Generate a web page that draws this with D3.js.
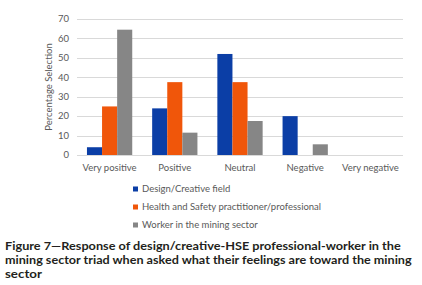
<!DOCTYPE html>
<html>
<head>
<meta charset="utf-8">
<script src="https://cdn.jsdelivr.net/npm/d3@7"></script>
<style>
  body { margin: 0; background: #fff; }
  svg text { font-family: Lato, "Open Sans", sans-serif; }
</style>
</head>
<body>
<div id="chart"></div>
<script>
const categories = ["Very positive", "Positive", "Neutral", "Negative", "Very negative"];
const seriesNames = ["Design/Creative field", "Health and Safety practitioner/professional", "Worker in the mining sector"];
const design = [4, 24, 52, 20, 0];
const health = [25, 37.5, 37.5, 0, 0];
const worker = [64.5, 11.5, 17.5, 5.5, 0];
const yTicks = [0, 10, 20, 30, 40, 50, 60, 70];
const colors = ["#0b3ea6", "#f0560a", "#868686"];
const captionLines = [
  "Figure 7\u2014Response of design/creative-HSE professional-worker in the",
  "mining sector triad when asked what their feelings are toward the mining",
  "sector"
];
const captionWidths = [396, 407, 37];

const w = 422, h = 285;
const margin = { top: 19, right: 19, bottom: 130, left: 77 };

const svg = d3.select("#chart").append("svg")
  .attr("width", w).attr("height", h);

const x = d3.scaleBand().domain(categories)
  .range([margin.left, w - margin.right]).paddingInner(0).paddingOuter(0);
const x1 = d3.scaleBand().domain(d3.range(seriesNames.length))
  .range([0, x.bandwidth()]).paddingInner(0).paddingOuter(0.66);
const y = d3.scaleLinear().domain([0, 70]).range([h - margin.bottom, margin.top]);

// gridlines
svg.append("g")
  .selectAll("line")
  .data(yTicks)
  .join("line")
  .attr("x1", margin.left).attr("x2", w - margin.right)
  .attr("y1", d => Math.round(y(d)) + 0.5).attr("y2", d => Math.round(y(d)) + 0.5)
  .attr("stroke", "#d9d9d9").attr("stroke-width", 1);

// y labels
svg.append("g")
  .selectAll("text")
  .data(yTicks)
  .join("text")
  .attr("x", margin.left - 8).attr("y", d => y(d))
  .attr("dy", "0.35em")
  .attr("text-anchor", "end")
  .attr("font-size", 9.5)
  .attr("fill", "#595959")
  .text(d => d);

svg.append("text")
  .attr("transform", `translate(52,${(y(0) + y(70)) / 2}) rotate(-90)`)
  .attr("text-anchor", "middle")
  .attr("font-size", 9.5)
  .attr("fill", "#595959")
  .text("Percentage Selection");

// bars
const allSeries = [design, health, worker];
allSeries.forEach((vals, si) => {
  svg.append("g")
    .selectAll("rect")
    .data(vals)
    .join("rect")
    .attr("x", (d, i) => x(categories[i]) + x1(si))
    .attr("width", x1.bandwidth())
    .attr("y", d => y(d))
    .attr("height", d => y(0) - y(d))
    .attr("fill", colors[si]);
});

// x labels
svg.append("g")
  .selectAll("text")
  .data(categories)
  .join("text")
  .attr("x", d => x(d) + x.bandwidth() / 2)
  .attr("y", y(0) + 16)
  .attr("text-anchor", "middle")
  .attr("font-size", 9.5)
  .attr("fill", "#595959")
  .text(d => d);

// legend
const legend = svg.append("g").attr("transform", "translate(133,189)");
seriesNames.forEach((name, i) => {
  const item = legend.append("g").attr("transform", `translate(0,${i * 18})`);
  item.append("rect").attr("x", 0).attr("y", -2.5).attr("width", 5).attr("height", 5).attr("fill", colors[i]);
  item.append("text").attr("x", 9).attr("y", 0).attr("dy", "0.35em")
    .attr("font-size", 9.5).attr("fill", "#595959").text(name);
});

// caption - condensed by horizontal scaling to match the narrow print font
svg.append("g")
  .selectAll("text")
  .data(captionLines)
  .join("text")
  .attr("font-family", "'Liberation Sans', Arial, sans-serif")
  .attr("font-size", 12)
  .attr("font-weight", "bold")
  .attr("fill", "#231f20")
  .text(d => d)
  .attr("transform", function(d, i) {
    const sx = captionWidths[i] / this.getComputedTextLength();
    return `translate(5,${250 + i * 14}) scale(${sx},1)`;
  });
</script>
</body>
</html>
